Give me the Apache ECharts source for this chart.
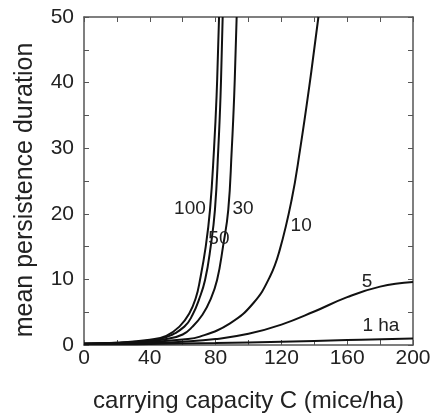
<!DOCTYPE html>
<html>
<head>
<meta charset="utf-8">
<script src="https://cdn.jsdelivr.net/npm/echarts@6/dist/echarts.min.js"></script>
<style>
  html, body { margin: 0; padding: 0; background: #fff; }
  #main { width: 433px; height: 414px; }
</style>
</head>
<body>
<div id="main"></div>
<script>
// carrying capacity (x) and mean persistence (y) per patch size
var c100 = [0, 20, 40, 50, 58, 64, 68, 70.5, 74, 76.6, 79, 80.6, 82.1];
var v100 = [0.2, 0.35, 0.8, 1.4, 2.8, 4.8, 7.2, 9.9, 15, 20.6, 29.7, 38, 50];
var c50 = [0, 20, 40, 50, 61, 66, 70, 73.6, 77, 79.6, 81.6, 83, 84.3];
var v50 = [0.2, 0.33, 0.7, 1.2, 2.8, 4.6, 7, 9.9, 15, 20.6, 29.7, 38, 50];
var c30 = [0, 20, 40, 50, 60, 66, 72, 77, 80.9, 84.5, 87.7, 89.8, 91.3, 92.8];
var v30 = [0.2, 0.3, 0.6, 0.9, 1.6, 2.8, 4.6, 7, 9.9, 15, 20.6, 29.7, 38, 50];
var c10 = [0, 20, 40, 60, 70.5, 88.8, 103, 113, 119, 126.2, 131.3, 137, 142.5];
var v10 = [0.2, 0.25, 0.45, 0.85, 1.27, 3.3, 6.4, 10.4, 14.5, 22.1, 29.7, 39.5, 50];
var c5 = [0, 20, 40, 60, 80, 100, 120, 140, 160, 180, 200];
var v5 = [0.2, 0.22, 0.3, 0.5, 0.9, 1.7, 3.1, 5.1, 7.3, 8.9, 9.6];
var c1 = [0, 40, 80, 120, 160, 200];
var v1 = [0.1, 0.15, 0.3, 0.5, 0.75, 1.0];

var curveNames = ['100', '50', '30', '10', '5', '1 ha'];
// label anchor positions in data units
var labelC = [64.4, 82, 96.7, 132, 172, 180.5];
var labelV = [20.7, 16.2, 20.7, 18.1, 9.6, 2.9];

var xTicks = [0, 40, 80, 120, 160, 200];
var yTicks = [0, 10, 20, 30, 40, 50];

function zip(a, b) {
  var out = [];
  for (var i = 0; i < a.length; i++) out.push([a[i], b[i]]);
  return out;
}

var allData = [zip(c100, v100), zip(c50, v50), zip(c30, v30), zip(c10, v10), zip(c5, v5), zip(c1, v1)];

var font = 'Liberation Sans, Arial, sans-serif';
var axisGray = '#555';

var series = allData.map(function (d, i) {
  return {
    name: curveNames[i],
    type: 'line',
    data: d,
    showSymbol: false,
    smooth: 0.45,
    clip: true,
    lineStyle: { color: '#111', width: 2 },
    markPoint: {
      symbol: 'circle',
      symbolSize: 0,
      data: [{
        coord: [labelC[i], labelV[i]],
        label: {
          show: true,
          formatter: curveNames[i],
          color: '#222',
          fontSize: 19,
          fontFamily: font,
          position: 'inside'
        }
      }]
    }
  };
});

// shared axis bits (box frame with inside ticks)
function frameAxis(extra) {
  var base = {
    type: 'value',
    axisLine: { show: true, onZero: false, lineStyle: { color: axisGray, width: 1.5 } },
    axisTick: { show: true, inside: true, length: 5, lineStyle: { color: axisGray } },
    minorTick: { show: true, splitNumber: 2, length: 5, lineStyle: { color: axisGray } },
    splitLine: { show: false }
  };
  for (var k in extra) base[k] = extra[k];
  return base;
}

var myChart = echarts.init(document.getElementById('main'));
var option = {
  animation: false,
  grid: { left: 84, right: 20, top: 17, bottom: 69, outerBoundsMode: 'none' },
  xAxis: [
    frameAxis({
      min: 0, max: 200, interval: 40,
      name: 'carrying capacity C (mice/ha)',
      nameLocation: 'middle',
      nameGap: 44,
      nameTextStyle: { fontSize: 24, color: '#222', fontFamily: font },
      axisLabel: { fontSize: 21, color: '#222', fontFamily: font, margin: 3,
        formatter: function (v) { return xTicks.indexOf(v) >= 0 ? String(v) : ''; } }
    }),
    frameAxis({ position: 'top', min: 0, max: 200, interval: 40, axisLabel: { show: false } })
  ],
  yAxis: [
    frameAxis({
      min: 0, max: 50, interval: 10,
      name: 'mean persistence duration',
      nameLocation: 'middle',
      nameGap: 46,
      nameTextStyle: { fontSize: 25, color: '#222', fontFamily: font, padding: [0, 18, 0, 0] },
      axisLabel: { fontSize: 21, color: '#222', fontFamily: font, margin: 10,
        formatter: function (v) { return yTicks.indexOf(v) >= 0 ? String(v) : ''; } }
    }),
    frameAxis({ position: 'right', min: 0, max: 50, interval: 10, axisLabel: { show: false } })
  ],
  series: series
};
myChart.setOption(option);
</script>
</body>
</html>
